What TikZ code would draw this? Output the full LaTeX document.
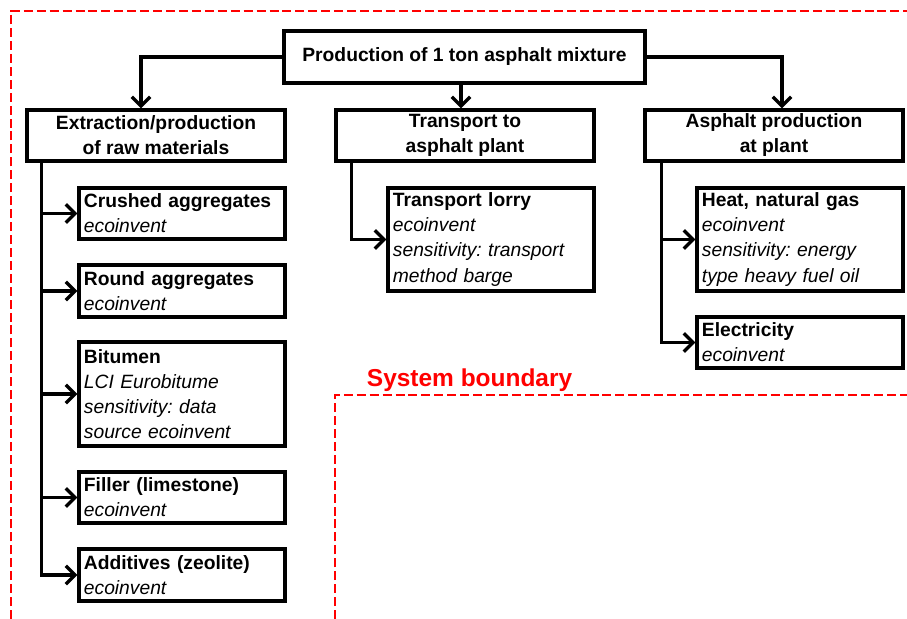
\documentclass[tikz,border=0pt]{standalone}
\usepackage{fontspec}
\setmainfont{Liberation Sans}
\usetikzlibrary{positioning, arrows.meta, calc}
\frenchspacing

\tikzset{
    every node/.style={font=\fontsize{13.7pt}{17.8pt}\selectfont},
    box/.style={draw, line width=2.4pt, inner sep=0pt},
    head/.style={box, align=center, font=\fontsize{13.7pt}{17.8pt}\selectfont\bfseries, minimum width=6.45cm, minimum height=1.275cm},
    item/.style={box, align=left, inner xsep=3.5pt, text width=5.15cm-7pt, minimum height=#1},
    item/.default=1.275cm,
    link/.style={line width=2.4pt, -{Straight Barb[length=6.5pt, width=13pt, line width=2.4pt]}},
    bound/.style={red, line width=2pt, dash pattern=on 6.4pt off 2.8pt}
}

\begin{document}
\begin{tikzpicture}
    \useasboundingbox (0,0) rectangle (22.675,15.475);
    % system boundary
    \draw[bound] (0.275,0) -- (0.275,15.2) -- (22.675,15.2);
    \draw[bound] (8.375,0) -- (8.375,5.6) -- (22.675,5.6);
    \node[anchor=base west, red, font=\fontsize{17.4pt}{20pt}\selectfont\bfseries] (sysb) at (9.05,5.8) {System boundary};

    % main levels
    \node[head, minimum width=9.025cm, minimum height=1.3cm] (prod) at (11.6125,14.05) {Production of 1 ton asphalt mixture};
    \node[head] (extr) at (3.9,12.0875) {Extraction/production\\of raw materials};
    \node[head] (tran) at (11.625,12.0875) {Transport to\\asphalt plant};
    \node[head] (plant) at (19.35,12.0875) {Asphalt production\\at plant};

    \draw[link] (prod.west) -| ([xshift=-0.375cm]extr.north);
    \draw[link] ([xshift=-0.1cm]tran.north |- prod.south) -- ([xshift=-0.1cm]tran.north);
    \draw[link] (prod.east) -| ([xshift=0.2cm]plant.north);

    % raw materials
    \node[item] (crush) at (4.55,10.1375) {\textbf{Crushed aggregates}\\\textit{ecoinvent}};
    \node[item=1.3cm] (round) at (4.55,8.2) {\textbf{Round aggregates}\\\textit{ecoinvent}};
    \node[item=2.6cm] (bitu) at (4.55,5.625) {\textbf{Bitumen}\\\textit{LCI Eurobitume}\\\textit{sensitivity: data}\\\textit{source ecoinvent}};
    \node[item] (fill) at (4.55,3.0375) {\textbf{Filler (limestone)}\\\textit{ecoinvent}};
    \node[item=1.3cm] (addi) at (4.55,1.1) {\textbf{Additives (zeolite)}\\\textit{ecoinvent}};

    \foreach \n in {crush,round,bitu,fill,addi}
        \draw[link] ([xshift=0.4cm]extr.south west) |- (\n.west);

    % transport
    \node[item=2.575cm] (lorry) at (12.275,9.4875) {\textbf{Transport lorry}\\\textit{ecoinvent}\\\textit{sensitivity: transport}\\\textit{method barge}};
    \draw[link] ([xshift=0.425cm]tran.south west) |- (lorry.west);

    % plant
    \node[item=2.575cm] (heat) at (20.0,9.4875) {\textbf{Heat, natural gas}\\\textit{ecoinvent}\\\textit{sensitivity: energy}\\\textit{type heavy fuel oil}};
    \node[item] (elec) at (20.0,6.9125) {\textbf{Electricity}\\\textit{ecoinvent}};
    \foreach \n in {heat,elec}
        \draw[link] ([xshift=0.45cm]plant.south west) |- (\n.west);
\end{tikzpicture}
\end{document}
